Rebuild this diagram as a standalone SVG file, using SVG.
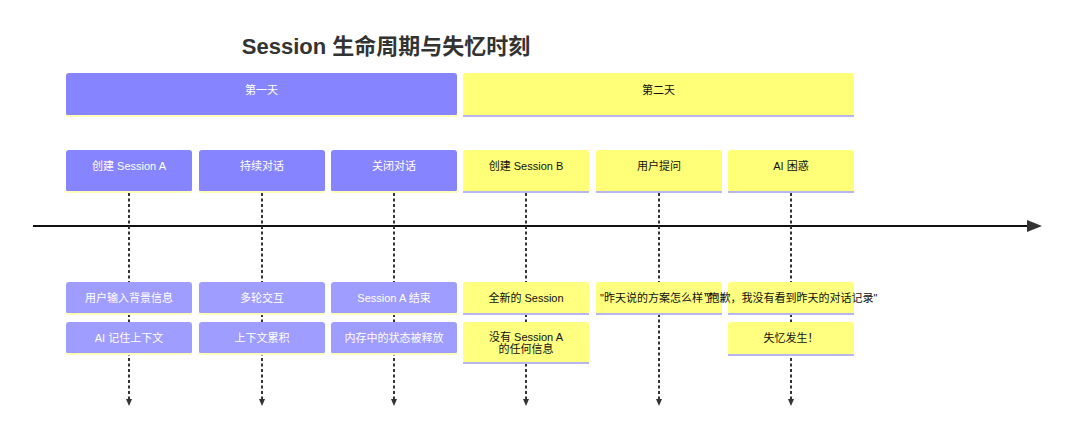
<svg xmlns="http://www.w3.org/2000/svg" width="1080" height="441" viewBox="0 0 1080 441">
<defs>
<style>
text{font-family:"Liberation Sans","Noto Sans CJK SC",sans-serif;font-size:11px;text-anchor:middle}
.title{font-size:22px;font-weight:bold;fill:#333}
.w{fill:#ffffff}
.k{fill:#111111}
.hp{fill:#8784ff}
.hy{fill:#ffff78}
.lp{fill:#9f9dff}
.ly{fill:#ffff80}
.bp{stroke:#ffffb8;stroke-width:2}
.by{stroke:#b8b6f0;stroke-width:2}
.dash{stroke:#333;stroke-width:2;stroke-dasharray:3 2.5;fill:none}
</style>
</defs>
<rect width="1080" height="441" fill="#ffffff"/>
<text class="title" x="386" y="54">Session 生命周期与失忆时刻</text>

<g id="connectors">
<line x1="33" y1="226" x2="1028" y2="226" stroke="#111" stroke-width="2"/>
<path d="M1027,220L1042,226L1027,232z" fill="#333"/>
<line class="dash" x1="129" y1="193" x2="129" y2="399"/>
<line class="dash" x1="262" y1="193" x2="262" y2="399"/>
<line class="dash" x1="394" y1="193" x2="394" y2="399"/>
<line class="dash" x1="526" y1="193" x2="526" y2="399"/>
<line class="dash" x1="659" y1="193" x2="659" y2="399"/>
<line class="dash" x1="791" y1="193" x2="791" y2="399"/>
<path d="M126,399L132,399L129,406z M259,399L265,399L262,406z M391,399L397,399L394,406z M523,399L529,399L526,406z M656,399L662,399L659,406z M788,399L794,399L791,406z" fill="#333"/>
</g>

<g id="section-day1">
<rect class="hp" x="66" y="73" width="391" height="43" rx="3"/>
<line class="bp" x1="66" y1="116" x2="457" y2="116"/>
<text class="w" x="261.5" y="94">第一天</text>
</g>
<g id="section-day2">
<rect class="hy" x="463" y="73" width="391" height="43" rx="3"/>
<line class="by" x1="463" y1="116" x2="854" y2="116"/>
<text class="k" x="658.5" y="94">第二天</text>
</g>

<g id="task-create-a">
<rect class="hp" x="66" y="150" width="126" height="42" rx="3"/>
<line class="bp" x1="66" y1="192" x2="192" y2="192"/>
<text class="w" x="129" y="170">创建 Session A</text>
</g>
<g id="task-continue">
<rect class="hp" x="199" y="150" width="126" height="42" rx="3"/>
<line class="bp" x1="199" y1="192" x2="325" y2="192"/>
<text class="w" x="262" y="170">持续对话</text>
</g>
<g id="task-close">
<rect class="hp" x="331" y="150" width="126" height="42" rx="3"/>
<line class="bp" x1="331" y1="192" x2="457" y2="192"/>
<text class="w" x="394" y="170">关闭对话</text>
</g>
<g id="task-create-b">
<rect class="hy" x="463" y="150" width="126" height="42" rx="3"/>
<line class="by" x1="463" y1="192" x2="589" y2="192"/>
<text class="k" x="526" y="170">创建 Session B</text>
</g>
<g id="task-ask">
<rect class="hy" x="596" y="150" width="126" height="42" rx="3"/>
<line class="by" x1="596" y1="192" x2="722" y2="192"/>
<text class="k" x="659" y="170">用户提问</text>
</g>
<g id="task-confused">
<rect class="hy" x="728" y="150" width="126" height="42" rx="3"/>
<line class="by" x1="728" y1="192" x2="854" y2="192"/>
<text class="k" x="791" y="170">AI 困惑</text>
</g>

<g id="event-a1">
<rect class="lp" x="66" y="282" width="126" height="32" rx="3"/>
<line class="bp" x1="66" y1="314" x2="192" y2="314"/>
<text class="w" x="129" y="302">用户输入背景信息</text>
</g>
<g id="event-a2">
<rect class="lp" x="66" y="322" width="126" height="32" rx="3"/>
<line class="bp" x1="66" y1="354" x2="192" y2="354"/>
<text class="w" x="129" y="342">AI 记住上下文</text>
</g>
<g id="event-b1">
<rect class="lp" x="199" y="282" width="126" height="32" rx="3"/>
<line class="bp" x1="199" y1="314" x2="325" y2="314"/>
<text class="w" x="262" y="302">多轮交互</text>
</g>
<g id="event-b2">
<rect class="lp" x="199" y="322" width="126" height="32" rx="3"/>
<line class="bp" x1="199" y1="354" x2="325" y2="354"/>
<text class="w" x="262" y="342">上下文累积</text>
</g>
<g id="event-c1">
<rect class="lp" x="331" y="282" width="126" height="32" rx="3"/>
<line class="bp" x1="331" y1="314" x2="457" y2="314"/>
<text class="w" x="394" y="302">Session A 结束</text>
</g>
<g id="event-c2">
<rect class="lp" x="331" y="322" width="126" height="32" rx="3"/>
<line class="bp" x1="331" y1="354" x2="457" y2="354"/>
<text class="w" x="394" y="342">内存中的状态被释放</text>
</g>
<g id="event-d1">
<rect class="ly" x="463" y="282" width="126" height="32" rx="3"/>
<line class="by" x1="463" y1="314" x2="589" y2="314"/>
<text class="k" x="526" y="302">全新的 Session</text>
</g>
<g id="event-d2">
<rect class="ly" x="463" y="322" width="126" height="41" rx="3"/>
<line class="by" x1="463" y1="363" x2="589" y2="363"/>
<text class="k" x="526" y="341">没有 Session A</text>
<text class="k" x="526" y="353">的任何信息</text>
</g>
<g id="event-e1">
<rect class="ly" x="596" y="282" width="126" height="32" rx="3"/>
<line class="by" x1="596" y1="314" x2="722" y2="314"/>
<text class="k" x="659" y="302">"昨天说的方案怎么样了"</text>
</g>
<g id="event-f1">
<rect class="ly" x="728" y="282" width="126" height="32" rx="3"/>
<line class="by" x1="728" y1="314" x2="854" y2="314"/>
<text class="k" x="791" y="302">"抱歉，我没有看到昨天的对话记录"</text>
</g>
<g id="event-f2">
<rect class="ly" x="728" y="322" width="126" height="33" rx="3"/>
<line class="by" x1="728" y1="355" x2="854" y2="355"/>
<text class="k" x="791" y="342">失忆发生！</text>
</g>
</svg>
